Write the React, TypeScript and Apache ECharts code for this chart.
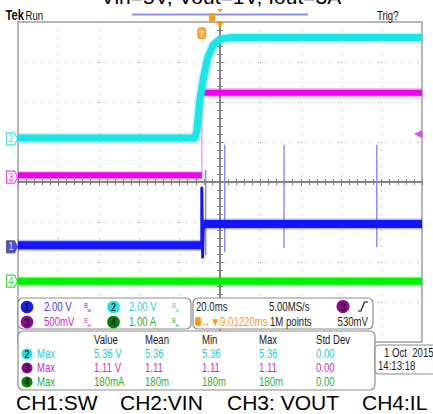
import React, { useEffect, useRef } from 'react';
import * as echarts from 'echarts';

// ---- data (graticule units: x = time divisions from centre, y = vertical divisions from centre) ----
const TRIG_X = -0.4506; // trigger at -9.01220 ms, 20 ms/div

const ch2Vin: [number, number][] = [
  [-5, 1.1], [-0.62, 1.1], [-0.57, 1.3], [-0.54, 1.62], [-0.5, 2.05], [-0.42, 2.55],
  [-0.3, 3.12], [-0.17, 3.42], [0, 3.57], [0.25, 3.61], [5, 3.61],
];
const ch3VoutLow: [number, number][] = [[-5, 0.17], [TRIG_X, 0.17]];
const ch3VoutEdge: [number, number][] = [[TRIG_X, 0.17], [TRIG_X, 2.3]];
const ch3VoutHigh: [number, number][] = [[-0.41, 2.23], [5, 2.23]];
const ch1SwLow: [number, number][] = [[-5, -1.58], [TRIG_X, -1.58]];
const ch1SwEdge: [number, number][] = [[TRIG_X, -1.58], [TRIG_X, -0.15], [-0.43, -1.88], [-0.41, -1.05]];
const ch1SwHigh: [number, number][] = [[-0.41, -1.05], [5, -1.05]];
const ch1Spikes = [
  { x: -0.354, top: 0.3, bottom: -1.83 },
  { x: 0.116, top: 0.93, bottom: -1.75 },
  { x: 1.584, top: 0.93, bottom: -1.65 },
  { x: 3.88, top: 0.93, bottom: -1.63 },
];
const ch4Il: [number, number][] = [[-5, -2.48], [5, -2.48]];

const channelNames = ['1', '2', '3', '4'];
const channelGround = [-1.62, 1.08, 0.12, -2.48];
const channelColors = ['#1f1ff0', '#19d8d8', '#e21ee2', '#19c419'];
const trigLevelY = 1.2;

const scaleRow1 = ['2.00 V', '2.00 V'];
const scaleRow2 = ['500mV', '1.00 A'];
const timebase = ['20.0ms', '5.00MS/s', '1M points', '530mV'];
const trigDelay = '\u2192\u25BC9.01220ms';
const measHeader = ['Value', 'Mean', 'Min', 'Max', 'Std Dev'];
const measCh = ['2', '3', '4'];
const measValue = ['5.36 V', '1.11 V', '180mA'];
const measMean = ['5.36', '1.11', '180m'];
const measMin = ['5.36', '1.11', '180m'];
const measMax = ['5.36', '1.11', '180m'];
const measStd = ['0.00', '0.00', '0.00'];
const captions = ['CH1:SW', 'CH2:VIN', 'CH3: VOUT', 'CH4:IL'];

// ---- styling helpers ----
const FA = "'Liberation Sans',Arial,sans-serif";
const NARROW = 0.8;

const txt = (x: number, y: number, text: string, fill: string, size = 12, align = 'left', weight = 'normal', sx = NARROW, z = 101) => ({
  type: 'text', x, y, z, scaleX: sx,
  style: { text, fill, font: `${weight} ${size}px ${FA}`, textAlign: align, textVerticalAlign: 'middle', align, verticalAlign: 'middle' },
});
const badge = (cx: number, cy: number, r: number, fill: string, label: string, labelColor = '#000') => [
  { type: 'circle', z: 100, shape: { cx, cy, r }, style: { fill } },
  txt(cx, cy + 0.5, label, labelColor, 11, 'center', 'normal', NARROW, 102),
];
const box = (x: number, y: number, w: number, h: number) => ({
  type: 'rect', z: 99, shape: { x, y, width: w, height: h, r: 5 }, style: { fill: '#ffffff', stroke: '#8c8c8c', lineWidth: 1.2 },
});
const bwIcon = (x: number, y: number, color: string) => [
  txt(x, y - 2, 'B', color, 7),
  txt(x + 3.5, y + 3, 'w', color, 6),
];

const lineS = (data: any, color: string, width: number, opacity = 1, z = 3) => ({
  type: 'line', data, xAxisIndex: 0, yAxisIndex: 0, symbol: 'none', showSymbol: false, silent: true,
  animation: false, z, lineStyle: { color, width, opacity, cap: 'butt', join: 'round' },
});

const panelText = {
  blue: '#3a3aff', cyan: '#1ecfd6', magenta: '#cc2ccc', green: '#2fae2f', orange: '#ff9a14', dark: '#222222',
};

export default function App() {
  const ref = useRef<HTMLDivElement>(null);
  useEffect(() => {
    if (!ref.current) return;
    const chart = echarts.init(ref.current, undefined, { renderer: 'svg' });

    const xBase = { type: 'value', min: -5, max: 5, interval: 1, axisLabel: { show: false }, splitLine: { show: false }, axisTick: { show: false }, axisLine: { show: false } };
    const yBase = { type: 'value', min: -4, max: 4, interval: 1, axisLabel: { show: false }, splitLine: { show: false }, axisTick: { show: false }, axisLine: { show: false } };
    const dotted = { show: true, lineStyle: { color: '#a0a0a0', type: [1, 7], width: 1 } };
    const frameTick = { show: true, inside: true, length: 4, lineStyle: { color: '#a0a0a0', width: 1 } };
    const frameMinor = { show: true, splitNumber: 5, length: 3, lineStyle: { color: '#a0a0a0', width: 1 } };
    const centreLine = (idx: number) => ({ show: true, onZero: true, onZeroAxisIndex: idx, lineStyle: { color: '#7c7c7c', width: 1.5 } });
    const cTick = (inside: boolean) => ({ show: true, inside, length: 3, lineStyle: { color: '#7c7c7c', width: 1 } });
    const cMinor = { show: true, splitNumber: 5, length: 3, lineStyle: { color: '#7c7c7c', width: 1 } };

    const series: any[] = [];
    // CH4
    series.push(lineS(ch4Il, '#00ee00', 10, 0.3));
    series.push(lineS(ch4Il, '#00ee00', 7));
    // CH1
    series.push(lineS(ch1SwLow, '#1414ff', 11, 0.3));
    series.push(lineS(ch1SwHigh, '#1414ff', 11, 0.3));
    ch1Spikes.forEach((s) => series.push(lineS([[s.x, s.top], [s.x, s.bottom]], '#8080ff', 1.3, 1, 2)));
    series.push(lineS(ch1SwLow, '#1414ff', 8));
    series.push(lineS(ch1SwHigh, '#1414ff', 8));
    series.push(lineS(ch1SwEdge, '#1414ff', 3));
    // CH3
    series.push(lineS(ch3VoutLow, '#f000f0', 8, 0.3));
    series.push(lineS(ch3VoutHigh, '#f000f0', 9, 0.3));
    series.push(lineS(ch3VoutEdge, '#ff99ff', 1.5));
    series.push(lineS(ch3VoutLow, '#f000f0', 6));
    series.push(lineS(ch3VoutHigh, '#f000f0', 6));
    // CH2
    series.push(lineS(ch2Vin, '#19e6e6', 10, 0.3, 4));
    series.push(lineS(ch2Vin, '#19e6e6', 7, 1, 4));

    // channel ground markers (left)
    series.push({
      type: 'scatter', xAxisIndex: 0, yAxisIndex: 0, clip: false, silent: true, z: 6,
      symbol: 'path://M0,0L8,0L11,6L8,12L0,12Z', symbolSize: [11, 12], symbolOffset: [-6, 0],
      data: channelNames.map((n, i) => ({
        value: [-5, channelGround[i]],
        itemStyle: { color: i === 0 ? '#2020d8' : '#ffffff', borderColor: i === 0 ? '#555' : channelColors[i], borderWidth: 1.2 },
        label: { show: true, position: 'inside', formatter: n, color: i === 0 ? '#ffffff' : channelColors[i], fontSize: 10, fontFamily: FA, offset: [-1, 0] },
      })),
    });
    // trigger level marker (right), trigger position markers (top)
    series.push({
      type: 'scatter', xAxisIndex: 0, yAxisIndex: 0, clip: false, silent: true, z: 6,
      data: [
        { value: [5, trigLevelY], symbol: 'triangle', symbolRotate: 90, symbolSize: [8, 8], symbolOffset: [-4, 0], itemStyle: { color: '#e020e0' } },
        { value: [0, 4], symbol: 'triangle', symbolRotate: 180, symbolSize: [9, 6], symbolOffset: [0, 3], itemStyle: { color: '#ff9a14' } },
        {
          value: [TRIG_X, 3.72], symbol: 'roundRect', symbolSize: [8, 11], itemStyle: { color: '#ff9a14', borderColor: '#d07000', borderWidth: 0.8 },
          label: { show: true, position: 'inside', formatter: 'T', color: '#fff3c0', fontSize: 8, fontWeight: 'bold' },
        },
      ],
    });

    const g: any[] = [];
    // top header
    g.push(txt(221, -3.5, 'Vin=5V, Vout=1V, Iout=3A', '#000', 21, 'center', 'normal', 1));
    g.push(txt(5.5, 15.5, 'Tek', '#111', 14, 'left', 'bold', 0.8));
    g.push(txt(25.5, 15.5, 'Run', '#111', 12));
    g.push(txt(377, 15.5, 'Trig?', '#111', 12));
    g.push({ type: 'line', z: 100, shape: { x1: 132, y1: 14.5, x2: 308, y2: 14.5 }, style: { stroke: '#8c8ef0', lineWidth: 2 } });
    g.push({ type: 'rect', z: 101, shape: { x: 209, y: 13, width: 6, height: 9, r: 2 }, style: { fill: '#ff9a14' } });
    g.push({ type: 'polygon', z: 101, shape: { points: [[217, 9], [223, 9], [220, 12.5]] }, style: { fill: '#ff9a14' } });

    // box 1: channel scales
    g.push(box(18, 298, 173, 31));
    const c1 = [27, 113.5];
    g.push(...badge(c1[0], 307, 6.3, '#1c1cf0', '1'));
    g.push(txt(44, 307, scaleRow1[0], panelText.blue));
    g.push(...bwIcon(84, 307, panelText.blue));
    g.push(...badge(c1[1], 307, 6.3, '#25e0e0', '2'));
    g.push(txt(129, 307, scaleRow1[1], panelText.cyan));
    g.push(...bwIcon(172, 307, panelText.cyan));
    g.push(...badge(c1[0], 322, 6.3, '#8c0c8c', '3'));
    g.push(txt(44, 322, scaleRow2[0], panelText.magenta));
    g.push(...bwIcon(84, 322, panelText.magenta));
    g.push(...badge(c1[1], 322, 6.3, '#0b7d0b', '4'));
    g.push(txt(129, 322, scaleRow2[1], panelText.green));
    g.push(...bwIcon(172, 322, panelText.green));

    // box 2: timebase / trigger
    g.push(box(193, 298, 180, 31));
    g.push(txt(196, 307, timebase[0], panelText.dark));
    g.push(txt(269, 307, timebase[1], panelText.dark));
    g.push(...badge(343, 306.5, 6.5, '#8c0c8c', '3'));
    g.push({ type: 'polyline', z: 101, shape: { points: [[358, 311], [361, 311], [364.5, 302], [368, 302]] }, style: { stroke: '#111', lineWidth: 1.2, fill: null } });
    g.push({ type: 'rect', z: 101, shape: { x: 195, y: 317, width: 6, height: 9, r: 2 }, style: { fill: '#ff9a14' } });
    g.push(txt(201, 322, trigDelay, panelText.orange));
    g.push(txt(270, 322, timebase[2], panelText.dark));
    g.push(txt(368, 322, timebase[3], panelText.dark, 12, 'right'));

    // box 3: measurements
    g.push(box(18, 331, 357, 59));
    const colX = [94, 145, 202, 259, 316];
    measHeader.forEach((h, i) => g.push(txt(colX[i], 340, h, panelText.dark)));
    const rowY = [354, 368, 382];
    const rowCol = [panelText.cyan, panelText.magenta, panelText.green];
    const rowFill = ['#25e0e0', '#8c0c8c', '#0b7d0b'];
    measCh.forEach((c, i) => {
      g.push(...badge(27, rowY[i], 5.5, rowFill[i], c));
      g.push(txt(37, rowY[i], 'Max', rowCol[i]));
      [measValue[i], measMean[i], measMin[i], measMax[i], measStd[i]].forEach((v, j) => g.push(txt(colX[j], rowY[i], v, rowCol[i])));
    });

    // date box
    g.push({ type: 'rect', z: 99, shape: { x: 375, y: 345, width: 64, height: 29, r: 4 }, style: { fill: '#ffffff', stroke: '#8c8c8c', lineWidth: 1.2 } });
    g.push(txt(384, 352.5, '1 Oct  2015', panelText.dark));
    g.push(txt(378, 366, '14:13:18', panelText.dark));

    // caption
    const capX = [16, 120, 227, 362];
    captions.forEach((c, i) => g.push(txt(capX[i], 402.7, c, '#000', 21, 'left', 'normal', 1)));

    chart.setOption({
      animation: false,
      backgroundColor: '#ffffff',
      grid: { left: 18, top: 22, width: 404, height: 320, show: true, borderColor: '#a0a0a0', borderWidth: 1.5, backgroundColor: 'transparent' },
      xAxis: [
        { ...xBase, position: 'bottom', splitLine: dotted },
        { ...xBase, position: 'top', axisTick: frameTick, minorTick: frameMinor },
        { ...xBase, position: 'bottom', axisLine: centreLine(0), axisTick: cTick(true), minorTick: cMinor },
        { ...xBase, position: 'bottom', axisLine: centreLine(0), axisTick: cTick(false), minorTick: cMinor },
      ],
      yAxis: [
        { ...yBase, position: 'left', splitLine: dotted },
        { ...yBase, position: 'left', axisTick: frameTick, minorTick: frameMinor },
        { ...yBase, position: 'right', axisTick: frameTick, minorTick: frameMinor },
        { ...yBase, position: 'left', axisLine: centreLine(0), axisTick: cTick(true), minorTick: cMinor },
        { ...yBase, position: 'left', axisLine: centreLine(0), axisTick: cTick(false), minorTick: cMinor },
      ],
      series,
      graphic: { elements: g },
    });
    return () => chart.dispose();
  }, []);
  return <div ref={ref} style={{ position: 'absolute', left: 0, top: 0, width: 433, height: 414 }} />;
}
